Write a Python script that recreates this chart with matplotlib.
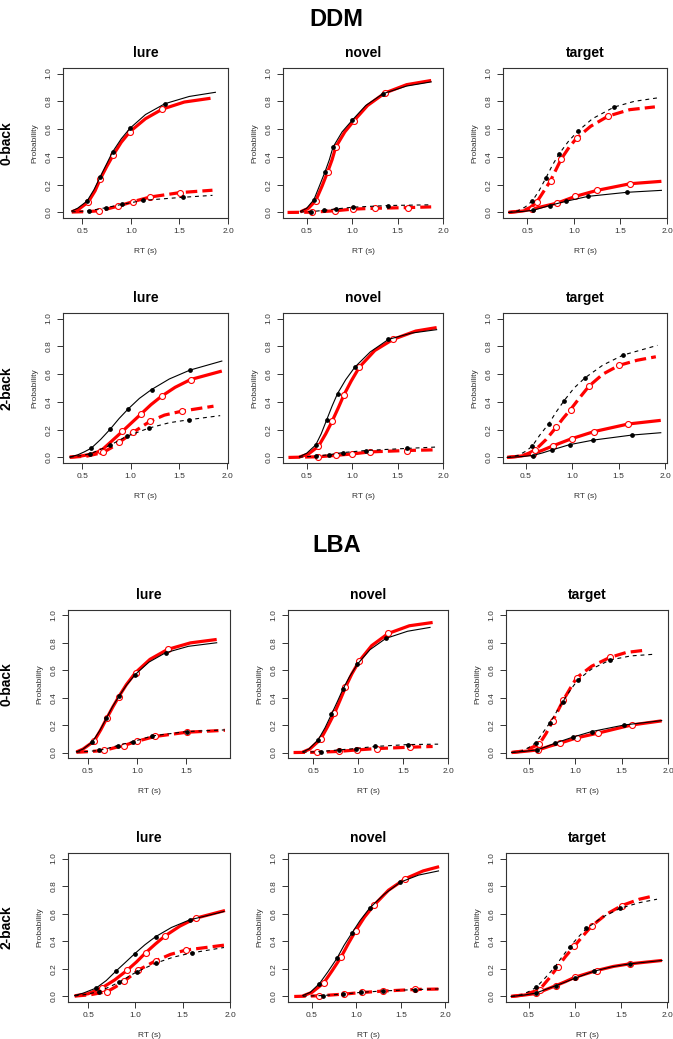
import matplotlib.pyplot as plt

plt.rcParams['font.family'] = ['Liberation Sans', 'DejaVu Sans']

models = ["DDM", "LBA"]
loads = ["0-back", "2-back"]
stimuli = ["lure", "novel", "target"]
yticks = [0.0, 0.2, 0.4, 0.6, 0.8, 1.0]
xticks = [0.5, 1.0, 1.5, 2.0]

# ---- DDM, 0-back ----
ddm0_lure_obs_solid = [(0.39, 0.01), (0.45, 0.03), (0.548, 0.082), (0.62, 0.165), (0.683, 0.256), (0.75, 0.35), (0.81, 0.435), (0.90, 0.53), (0.99, 0.606), (1.15, 0.705), (1.35, 0.783), (1.60, 0.835), (1.87, 0.865)]
ddm0_lure_obs_solid_q = [(0.548, 0.082), (0.683, 0.256), (0.81, 0.435), (0.99, 0.606), (1.35, 0.783)]
ddm0_lure_fit_solid = [(0.39, 0.005), (0.46, 0.022), (0.56, 0.075), (0.63, 0.155), (0.686, 0.244), (0.75, 0.33), (0.817, 0.413), (0.90, 0.505), (0.99, 0.582), (1.15, 0.675), (1.324, 0.744), (1.55, 0.795), (1.82, 0.822)]
ddm0_lure_fit_solid_q = [(0.56, 0.075), (0.686, 0.244), (0.817, 0.413), (0.99, 0.582), (1.324, 0.744)]
ddm0_lure_obs_dash = [(0.39, 0.004), (0.569, 0.012), (0.741, 0.034), (0.907, 0.058), (1.128, 0.087), (1.534, 0.109), (1.84, 0.123)]
ddm0_lure_obs_dash_q = [(0.569, 0.012), (0.741, 0.034), (0.907, 0.058), (1.128, 0.087), (1.534, 0.109)]
ddm0_lure_fit_dash = [(0.39, 0.003), (0.55, 0.006), (0.672, 0.012), (0.77, 0.028), (0.869, 0.046), (1.017, 0.077), (1.197, 0.111), (1.507, 0.143), (1.84, 0.16)]
ddm0_lure_fit_dash_q = [(0.672, 0.012), (0.869, 0.046), (1.017, 0.077), (1.197, 0.111), (1.507, 0.143)]

ddm0_novel_obs_solid = [(0.43, 0.007), (0.50, 0.03), (0.58, 0.092), (0.64, 0.19), (0.70, 0.289), (0.75, 0.38), (0.79, 0.47), (0.89, 0.58), (1.0, 0.663), (1.15, 0.77), (1.34, 0.855), (1.6, 0.91), (1.87, 0.94)]
ddm0_novel_obs_solid_q = [(0.58, 0.092), (0.70, 0.289), (0.79, 0.47), (1.0, 0.663), (1.34, 0.855)]
ddm0_novel_fit_solid = [(0.43, 0.004), (0.52, 0.03), (0.60, 0.085), (0.67, 0.19), (0.73, 0.29), (0.78, 0.38), (0.82, 0.47), (0.92, 0.58), (1.02, 0.66), (1.17, 0.77), (1.36, 0.86), (1.6, 0.92), (1.87, 0.95)]
ddm0_novel_fit_solid_q = [(0.60, 0.085), (0.73, 0.29), (0.82, 0.47), (1.02, 0.66), (1.36, 0.86)]
ddm0_novel_obs_dash = [(0.43, 0.003), (0.55, 0.006), (0.69, 0.015), (0.82, 0.025), (1.01, 0.038), (1.40, 0.05), (1.87, 0.055)]
ddm0_novel_obs_dash_q = [(0.55, 0.006), (0.69, 0.015), (0.82, 0.025), (1.01, 0.038), (1.40, 0.05)]
ddm0_novel_fit_dash = [(0.29, 0.0), (0.56, 0.002), (0.81, 0.012), (1.01, 0.024), (1.25, 0.03), (1.62, 0.035), (1.87, 0.04)]
ddm0_novel_fit_dash_q = [(0.56, 0.002), (0.81, 0.012), (1.01, 0.024), (1.25, 0.03), (1.62, 0.035)]

ddm0_target_obs_dash = [(0.30, 0.0), (0.40, 0.012), (0.48, 0.04), (0.556, 0.084), (0.63, 0.16), (0.70, 0.248), (0.77, 0.34), (0.845, 0.424), (0.94, 0.51), (1.04, 0.583), (1.20, 0.675), (1.433, 0.759), (1.65, 0.80), (1.92, 0.827)]
ddm0_target_obs_dash_q = [(0.556, 0.084), (0.70, 0.248), (0.845, 0.424), (1.04, 0.583), (1.433, 0.759)]
ddm0_target_fit_dash = [(0.30, 0.0), (0.45, 0.012), (0.53, 0.035), (0.60, 0.072), (0.675, 0.15), (0.75, 0.229), (0.81, 0.31), (0.866, 0.386), (0.95, 0.47), (1.03, 0.535), (1.18, 0.62), (1.37, 0.694), (1.6, 0.74), (1.87, 0.76)]
ddm0_target_fit_dash_q = [(0.60, 0.072), (0.75, 0.229), (0.866, 0.386), (1.03, 0.535), (1.37, 0.694)]
ddm0_target_obs_solid = [(0.30, 0.0), (0.45, 0.007), (0.567, 0.016), (0.65, 0.032), (0.74, 0.05), (0.913, 0.08), (1.155, 0.116), (1.57, 0.145), (1.94, 0.159)]
ddm0_target_obs_solid_q = [(0.567, 0.016), (0.74, 0.05), (0.913, 0.08), (1.155, 0.116), (1.57, 0.145)]
ddm0_target_fit_solid = [(0.30, 0.0), (0.45, 0.01), (0.55, 0.024), (0.68, 0.045), (0.82, 0.067), (1.018, 0.116), (1.25, 0.159), (1.606, 0.207), (1.94, 0.224)]
ddm0_target_fit_solid_q = [(0.55, 0.024), (0.82, 0.067), (1.018, 0.116), (1.25, 0.159), (1.606, 0.207)]

# ---- DDM, 2-back ----
ddm2_lure_obs_solid = [(0.37, 0.003), (0.45, 0.018), (0.52, 0.04), (0.593, 0.067), (0.69, 0.13), (0.79, 0.205), (0.88, 0.28), (0.974, 0.349), (1.09, 0.425), (1.216, 0.489), (1.40, 0.565), (1.614, 0.629), (1.943, 0.694)]
ddm2_lure_obs_solid_q = [(0.593, 0.067), (0.79, 0.205), (0.974, 0.349), (1.216, 0.489), (1.614, 0.629)]
ddm2_lure_fit_solid = [(0.37, 0.002), (0.50, 0.012), (0.60, 0.025), (0.697, 0.05), (0.80, 0.115), (0.915, 0.188), (1.01, 0.25), (1.112, 0.316), (1.21, 0.38), (1.32, 0.441), (1.46, 0.505), (1.62, 0.561), (1.943, 0.622)]
ddm2_lure_fit_solid_q = [(0.697, 0.05), (0.915, 0.188), (1.112, 0.316), (1.32, 0.441), (1.62, 0.561)]
ddm2_lure_obs_dash = [(0.37, 0.002), (0.48, 0.012), (0.583, 0.027), (0.68, 0.055), (0.784, 0.087), (0.957, 0.152), (1.192, 0.212), (1.40, 0.25), (1.607, 0.272), (1.926, 0.301)]
ddm2_lure_obs_dash_q = [(0.583, 0.027), (0.784, 0.087), (0.957, 0.152), (1.192, 0.212), (1.607, 0.272)]
ddm2_lure_fit_dash = [(0.37, 0.001), (0.55, 0.01), (0.715, 0.036), (0.80, 0.07), (0.88, 0.108), (1.026, 0.181), (1.2, 0.26), (1.35, 0.305), (1.528, 0.333), (1.857, 0.369)]
ddm2_lure_fit_dash_q = [(0.715, 0.036), (0.88, 0.108), (1.026, 0.181), (1.2, 0.26), (1.528, 0.333)]

ddm2_novel_obs_solid = [(0.42, 0.005), (0.50, 0.03), (0.60, 0.09), (0.66, 0.17), (0.72, 0.27), (0.78, 0.37), (0.84, 0.46), (0.93, 0.56), (1.03, 0.65), (1.2, 0.76), (1.40, 0.85), (1.65, 0.895), (1.93, 0.92)]
ddm2_novel_obs_solid_q = [(0.60, 0.09), (0.72, 0.27), (0.84, 0.46), (1.03, 0.65), (1.40, 0.85)]
ddm2_novel_fit_solid = [(0.42, 0.003), (0.52, 0.025), (0.63, 0.08), (0.71, 0.17), (0.78, 0.26), (0.85, 0.36), (0.91, 0.45), (0.99, 0.55), (1.08, 0.65), (1.25, 0.77), (1.45, 0.85), (1.70, 0.91), (1.93, 0.935)]
ddm2_novel_fit_solid_q = [(0.63, 0.08), (0.78, 0.26), (0.91, 0.45), (1.08, 0.65), (1.45, 0.85)]
ddm2_novel_obs_dash = [(0.42, 0.002), (0.60, 0.01), (0.75, 0.02), (0.90, 0.035), (1.15, 0.05), (1.60, 0.065), (1.93, 0.075)]
ddm2_novel_obs_dash_q = [(0.60, 0.01), (0.75, 0.02), (0.90, 0.035), (1.15, 0.05), (1.60, 0.065)]
ddm2_novel_fit_dash = [(0.30, 0.0), (0.63, 0.005), (0.82, 0.015), (1.0, 0.025), (1.2, 0.04), (1.6, 0.05), (1.93, 0.055)]
ddm2_novel_fit_dash_q = [(0.63, 0.005), (0.82, 0.015), (1.0, 0.025), (1.2, 0.04), (1.6, 0.05)]

ddm2_target_obs_dash = [(0.30, 0.0), (0.42, 0.015), (0.50, 0.045), (0.568, 0.08), (0.65, 0.16), (0.748, 0.243), (0.83, 0.33), (0.914, 0.41), (1.02, 0.50), (1.137, 0.573), (1.33, 0.665), (1.547, 0.737), (1.917, 0.807)]
ddm2_target_obs_dash_q = [(0.568, 0.08), (0.748, 0.243), (0.914, 0.41), (1.137, 0.573), (1.547, 0.737)]
ddm2_target_fit_dash = [(0.30, 0.0), (0.45, 0.01), (0.53, 0.03), (0.604, 0.055), (0.72, 0.13), (0.827, 0.217), (0.90, 0.28), (0.982, 0.345), (1.08, 0.43), (1.18, 0.513), (1.33, 0.60), (1.504, 0.663), (1.70, 0.70), (1.9, 0.725)]
ddm2_target_fit_dash_q = [(0.604, 0.055), (0.827, 0.217), (0.982, 0.345), (1.18, 0.513), (1.504, 0.663)]
ddm2_target_obs_solid = [(0.30, 0.0), (0.45, 0.006), (0.575, 0.014), (0.677, 0.032), (0.777, 0.053), (0.971, 0.092), (1.227, 0.125), (1.64, 0.161), (1.953, 0.178)]
ddm2_target_obs_solid_q = [(0.575, 0.014), (0.777, 0.053), (0.971, 0.092), (1.227, 0.125), (1.64, 0.161)]
ddm2_target_fit_solid = [(0.30, 0.0), (0.45, 0.01), (0.575, 0.026), (0.68, 0.052), (0.795, 0.084), (0.993, 0.135), (1.234, 0.186), (1.604, 0.241), (1.953, 0.267)]
ddm2_target_fit_solid_q = [(0.575, 0.026), (0.795, 0.084), (0.993, 0.135), (1.234, 0.186), (1.604, 0.241)]

# ---- LBA, 0-back ----
lba0_lure_obs_solid = [(0.383, 0.005), (0.45, 0.025), (0.546, 0.078), (0.62, 0.16), (0.688, 0.25), (0.75, 0.335), (0.817, 0.413), (0.89, 0.49), (0.976, 0.566), (1.12, 0.66), (1.288, 0.728), (1.52, 0.775), (1.807, 0.801)]
lba0_lure_obs_solid_q = [(0.546, 0.078), (0.688, 0.25), (0.817, 0.413), (0.976, 0.566), (1.288, 0.728)]
lba0_lure_fit_solid = [(0.383, 0.004), (0.45, 0.025), (0.563, 0.083), (0.63, 0.165), (0.695, 0.255), (0.755, 0.335), (0.814, 0.408), (0.89, 0.495), (0.983, 0.583), (1.13, 0.68), (1.308, 0.752), (1.54, 0.80), (1.807, 0.825)]
lba0_lure_fit_solid_q = [(0.563, 0.083), (0.695, 0.255), (0.814, 0.408), (0.983, 0.583), (1.308, 0.752)]
lba0_lure_obs_dash = [(0.383, 0.003), (0.50, 0.008), (0.61, 0.015), (0.70, 0.03), (0.803, 0.051), (0.96, 0.08), (1.153, 0.121), (1.502, 0.153), (1.89, 0.165)]
lba0_lure_obs_dash_q = [(0.61, 0.015), (0.803, 0.051), (0.96, 0.08), (1.153, 0.121), (1.502, 0.153)]
lba0_lure_fit_dash = [(0.383, 0.002), (0.52, 0.007), (0.664, 0.015), (0.76, 0.033), (0.864, 0.051), (1.003, 0.083), (1.18, 0.117), (1.502, 0.148), (1.89, 0.162)]
lba0_lure_fit_dash_q = [(0.664, 0.015), (0.864, 0.051), (1.003, 0.083), (1.18, 0.117), (1.502, 0.148)]

lba0_novel_obs_solid = [(0.382, 0.005), (0.45, 0.025), (0.553, 0.092), (0.63, 0.18), (0.702, 0.279), (0.77, 0.375), (0.829, 0.461), (0.90, 0.55), (0.989, 0.643), (1.13, 0.75), (1.309, 0.833), (1.55, 0.885), (1.8, 0.913)]
lba0_novel_obs_solid_q = [(0.553, 0.092), (0.702, 0.279), (0.829, 0.461), (0.989, 0.643), (1.309, 0.833)]
lba0_novel_fit_solid = [(0.382, 0.003), (0.46, 0.025), (0.582, 0.097), (0.66, 0.19), (0.735, 0.286), (0.80, 0.385), (0.858, 0.476), (0.93, 0.575), (1.011, 0.667), (1.15, 0.78), (1.335, 0.869), (1.57, 0.925), (1.829, 0.949)]
lba0_novel_fit_solid_q = [(0.582, 0.097), (0.735, 0.286), (0.858, 0.476), (1.011, 0.667), (1.335, 0.869)]
lba0_novel_obs_dash = [(0.382, 0.002), (0.582, 0.007), (0.782, 0.019), (0.971, 0.029), (1.182, 0.044), (1.553, 0.058), (1.89, 0.061)]
lba0_novel_obs_dash_q = [(0.582, 0.007), (0.782, 0.019), (0.971, 0.029), (1.182, 0.044), (1.553, 0.058)]
lba0_novel_fit_dash = [(0.28, 0.0), (0.545, 0.002), (0.782, 0.008), (0.985, 0.019), (1.211, 0.029), (1.582, 0.039), (1.829, 0.044)]
lba0_novel_fit_dash_q = [(0.545, 0.002), (0.782, 0.008), (0.985, 0.019), (1.211, 0.029), (1.582, 0.039)]

lba0_target_obs_dash = [(0.319, 0.0), (0.42, 0.01), (0.50, 0.035), (0.58, 0.073), (0.66, 0.15), (0.731, 0.218), (0.80, 0.295), (0.867, 0.371), (0.95, 0.455), (1.029, 0.529), (1.18, 0.61), (1.376, 0.675), (1.6, 0.705), (1.871, 0.718)]
lba0_target_obs_dash_q = [(0.58, 0.073), (0.731, 0.218), (0.867, 0.371), (1.029, 0.529), (1.376, 0.675)]
lba0_target_fit_dash = [(0.319, 0.0), (0.45, 0.012), (0.53, 0.035), (0.616, 0.061), (0.69, 0.14), (0.76, 0.231), (0.82, 0.31), (0.875, 0.383), (0.95, 0.47), (1.018, 0.546), (1.18, 0.63), (1.376, 0.694), (1.55, 0.73), (1.77, 0.748)]
lba0_target_fit_dash_q = [(0.616, 0.061), (0.76, 0.231), (0.875, 0.383), (1.018, 0.546), (1.376, 0.694)]
lba0_target_obs_solid = [(0.319, 0.0), (0.45, 0.008), (0.588, 0.019), (0.69, 0.042), (0.785, 0.068), (0.975, 0.112), (1.179, 0.153), (1.53, 0.201), (1.932, 0.233)]
lba0_target_obs_solid_q = [(0.588, 0.019), (0.785, 0.068), (0.975, 0.112), (1.179, 0.153), (1.53, 0.201)]
lba0_target_fit_solid = [(0.319, 0.0), (0.45, 0.008), (0.606, 0.019), (0.72, 0.045), (0.839, 0.068), (1.018, 0.107), (1.244, 0.141), (1.609, 0.201), (1.932, 0.231)]
lba0_target_fit_solid_q = [(0.606, 0.019), (0.839, 0.068), (1.018, 0.107), (1.244, 0.141), (1.609, 0.201)]

# ---- LBA, 2-back ----
lba2_lure_obs_solid = [(0.357, 0.007), (0.45, 0.025), (0.583, 0.061), (0.69, 0.115), (0.795, 0.185), (0.89, 0.245), (0.993, 0.311), (1.10, 0.375), (1.212, 0.433), (1.38, 0.50), (1.572, 0.555), (1.936, 0.616)]
lba2_lure_obs_solid_q = [(0.583, 0.061), (0.795, 0.185), (0.993, 0.311), (1.212, 0.433), (1.572, 0.555)]
lba2_lure_fit_solid = [(0.357, 0.005), (0.50, 0.02), (0.647, 0.063), (0.78, 0.12), (0.912, 0.19), (1.01, 0.25), (1.106, 0.316), (1.21, 0.38), (1.311, 0.438), (1.47, 0.51), (1.636, 0.567), (1.947, 0.623)]
lba2_lure_fit_solid_q = [(0.647, 0.063), (0.912, 0.19), (1.106, 0.316), (1.311, 0.438), (1.636, 0.567)]
lba2_lure_obs_dash = [(0.357, 0.004), (0.48, 0.015), (0.611, 0.036), (0.72, 0.068), (0.83, 0.105), (1.011, 0.178), (1.219, 0.243), (1.40, 0.285), (1.594, 0.316), (1.936, 0.355)]
lba2_lure_obs_dash_q = [(0.611, 0.036), (0.83, 0.105), (1.011, 0.178), (1.219, 0.243), (1.594, 0.316)]
lba2_lure_fit_dash = [(0.357, 0.003), (0.52, 0.012), (0.703, 0.036), (0.79, 0.07), (0.883, 0.112), (1.028, 0.19), (1.212, 0.258), (1.37, 0.305), (1.53, 0.336), (1.936, 0.372)]
lba2_lure_fit_dash_q = [(0.703, 0.036), (0.883, 0.112), (1.028, 0.19), (1.212, 0.258), (1.53, 0.336)]

lba2_novel_obs_solid = [(0.397, 0.007), (0.48, 0.03), (0.583, 0.093), (0.68, 0.18), (0.78, 0.276), (0.86, 0.37), (0.948, 0.459), (1.04, 0.55), (1.149, 0.641), (1.31, 0.74), (1.495, 0.829), (1.70, 0.88), (1.923, 0.91)]
lba2_novel_obs_solid_q = [(0.583, 0.093), (0.78, 0.276), (0.948, 0.459), (1.149, 0.641), (1.495, 0.829)]
lba2_novel_fit_solid = [(0.397, 0.004), (0.50, 0.03), (0.632, 0.098), (0.73, 0.19), (0.829, 0.288), (0.91, 0.385), (0.993, 0.478), (1.09, 0.575), (1.197, 0.661), (1.36, 0.77), (1.551, 0.854), (1.75, 0.91), (1.93, 0.941)]
lba2_novel_fit_solid_q = [(0.632, 0.098), (0.829, 0.288), (0.993, 0.478), (1.197, 0.661), (1.551, 0.854)]
lba2_novel_obs_dash = [(0.397, 0.002), (0.62, 0.007), (0.85, 0.017), (1.05, 0.03), (1.30, 0.04), (1.66, 0.05), (1.93, 0.055)]
lba2_novel_obs_dash_q = [(0.62, 0.007), (0.85, 0.017), (1.05, 0.03), (1.30, 0.04), (1.66, 0.05)]
lba2_novel_fit_dash = [(0.30, 0.0), (0.583, 0.005), (0.855, 0.017), (1.06, 0.029), (1.30, 0.039), (1.662, 0.051), (1.93, 0.054)]
lba2_novel_fit_dash_q = [(0.583, 0.005), (0.855, 0.017), (1.06, 0.029), (1.30, 0.039), (1.662, 0.051)]

lba2_target_obs_dash = [(0.31, 0.0), (0.42, 0.012), (0.50, 0.035), (0.582, 0.066), (0.68, 0.135), (0.782, 0.212), (0.86, 0.285), (0.945, 0.359), (1.03, 0.425), (1.127, 0.493), (1.30, 0.575), (1.491, 0.639), (1.70, 0.68), (1.891, 0.705)]
lba2_target_obs_dash_q = [(0.582, 0.066), (0.782, 0.212), (0.945, 0.359), (1.127, 0.493), (1.491, 0.639)]
lba2_target_fit_dash = [(0.31, 0.0), (0.45, 0.012), (0.53, 0.03), (0.618, 0.049), (0.72, 0.13), (0.818, 0.217), (0.90, 0.29), (0.993, 0.363), (1.09, 0.44), (1.182, 0.51), (1.34, 0.595), (1.509, 0.659), (1.70, 0.705), (1.855, 0.729)]
lba2_target_fit_dash_q = [(0.618, 0.049), (0.818, 0.217), (0.993, 0.363), (1.182, 0.51), (1.509, 0.659)]
lba2_target_obs_solid = [(0.31, 0.0), (0.45, 0.01), (0.575, 0.024), (0.68, 0.05), (0.793, 0.078), (0.90, 0.105), (1.0, 0.132), (1.207, 0.183), (1.40, 0.215), (1.6, 0.237), (1.945, 0.261)]
lba2_target_obs_solid_q = [(0.575, 0.024), (0.793, 0.078), (1.0, 0.132), (1.207, 0.183), (1.6, 0.237)]
lba2_target_fit_solid = [(0.31, 0.0), (0.45, 0.01), (0.582, 0.022), (0.68, 0.048), (0.793, 0.078), (0.90, 0.108), (1.0, 0.139), (1.236, 0.188), (1.42, 0.218), (1.6, 0.237), (1.945, 0.261)]
lba2_target_fit_solid_q = [(0.582, 0.022), (0.793, 0.078), (1.0, 0.139), (1.236, 0.188), (1.6, 0.237)]

# x range of each panel (lure, novel, target)
xlims = {
    ("DDM", "0-back"): [(0.30, 2.0), (0.24, 2.0), (0.24, 2.0)],
    ("DDM", "2-back"): [(0.30, 2.007), (0.24, 2.0), (0.255, 2.02)],
    ("LBA", "0-back"): [(0.298, 1.942), (0.218, 2.0), (0.258, 2.0)],
    ("LBA", "2-back"): [(0.286, 2.0), (0.23, 2.03), (0.255, 2.01)],
}

W, H = 673, 1039
fig = plt.figure(figsize=(W / 100, H / 100), dpi=100)

# panel boxes in pixels
col_px = {"DDM": [(63, 228), (283, 443), (503, 667)],
          "LBA": [(68, 230), (288, 448), (506, 668)]}
row_px = {("DDM", "0-back"): (68, 218), ("DDM", "2-back"): (313, 463),
          ("LBA", "0-back"): (610, 758), ("LBA", "2-back"): (853, 1002)}


def xy(pts):
    return [p[0] for p in pts], [p[1] for p in pts]


for model in models:
    for load in loads:
        top, bot = row_px[(model, load)]
        for j, stim in enumerate(stimuli):
            x0, x1 = col_px[model][j]
            ax = fig.add_axes([x0 / W, 1 - bot / H, (x1 - x0) / W, (bot - top) / H])
            pre = model.lower() + load[0] + "_" + stim + "_"
            g = globals()

            # model fits (red)
            x, y = xy(g[pre + "fit_solid"])
            ax.plot(x, y, color="red", lw=2.3, solid_capstyle="butt")
            x, y = xy(g[pre + "fit_dash"])
            ax.plot(x, y, color="red", lw=2.3, dashes=(3.6, 1.6))
            for k in ("fit_solid_q", "fit_dash_q"):
                x, y = xy(g[pre + k])
                ax.plot(x, y, "o", ms=4.3, mfc="white", mec="red", mew=0.8)

            # observed (black)
            x, y = xy(g[pre + "obs_solid"])
            ax.plot(x, y, color="black", lw=0.8)
            x, y = xy(g[pre + "obs_dash"])
            ax.plot(x, y, color="black", lw=0.8, dashes=(3.5, 3.5))
            for k in ("obs_solid_q", "obs_dash_q"):
                x, y = xy(g[pre + k])
                ax.plot(x, y, "o", ms=2.4, color="black")

            ax.set_ylim(-0.04, 1.04)
            ax.set_xticks(xticks)
            ax.set_xlim(*xlims[(model, load)][j])
            ax.set_yticks(yticks)
            ax.set_xticklabels([f"{t:.1f}" for t in xticks])
            ax.set_yticklabels([f"{t:.1f}" for t in yticks])
            ax.tick_params(length=4, width=0.7, labelsize=6, pad=3.5,
                           colors="#333333", labelcolor="#333333")
            for lab in ax.get_yticklabels():
                lab.set_rotation(90)
                lab.set_va("center")
            for s in ax.spines.values():
                s.set_linewidth(0.8)
                s.set_color("#333333")
            ax.set_ylabel("Probability", fontsize=6, color="#333333", labelpad=5)
            ax.set_xlabel("RT (s)", fontsize=6, color="#333333", labelpad=9)
            ax.set_title(stim, fontsize=10, fontweight="bold", pad=8)

        fig.text(7 / W, 1 - (top + bot) / 2 / H, load, rotation=90, fontsize=10,
                 fontweight="bold", ha="center", va="center")

fig.text(0.5, 1 - 20 / H, "DDM", fontsize=17, fontweight="bold", ha="center", va="center")
fig.text(0.5, 1 - 546 / H, "LBA", fontsize=17, fontweight="bold", ha="center", va="center")

fig.savefig("out.png", dpi=100)
